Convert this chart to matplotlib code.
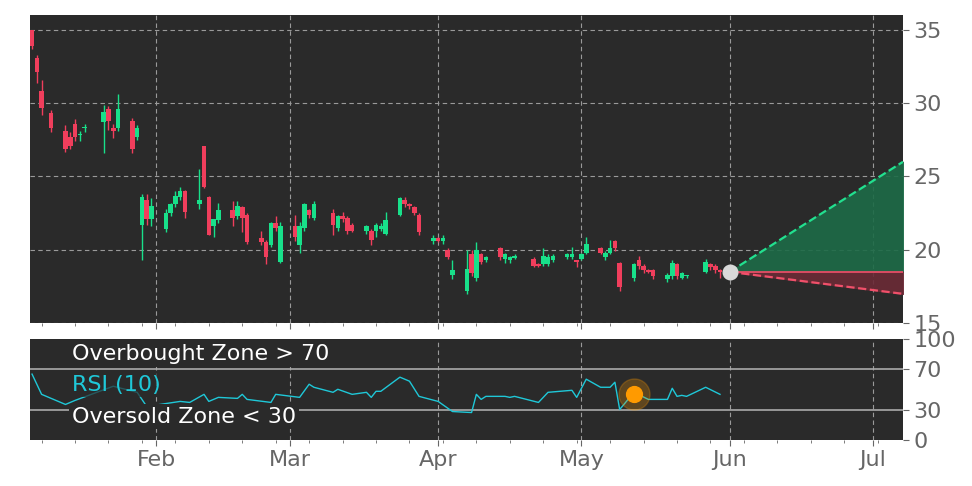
import matplotlib
matplotlib.use("Agg")
import matplotlib.pyplot as plt
import numpy as np

# day number = days since Jan 1 (Jan 1 = 0)
days = [5,6,7,9,12,13,14,15,16,20,21,22,23,26,27,
        28,29,30,33,34,35,36,37,40,41,42,43,44,47,48,49,50,53,54,55,56,57,60,61,62,63,64,
        68,69,70,71,72,75,76,77,78,79,82,83,84,85,86,89,90,91,92,93,96,97,98,99,100,
        103,104,105,106,110,111,112,113,114,117,118,119,120,121,124,125,126,127,128,
        131,132,133,134,135,138,139,140,141,142,146,147,148,149]
opens = [35.0,33.1,30.8,29.3,28.1,27.7,28.6,27.8,28.3,28.7,29.6,28.3,28.3,28.8,27.7,
         21.7,23.4,22.1,21.4,22.5,23.1,23.6,24.0,23.1,27.1,23.6,21.6,22.0,22.7,22.3,22.9,22.4,20.8,20.5,20.3,21.8,19.2,21.6,20.3,21.5,22.7,22.2,
         22.5,21.5,22.3,22.2,21.7,21.3,21.3,21.3,21.4,21.1,22.4,23.4,23.1,22.9,22.4,20.6,20.8,20.6,20.0,18.3,17.2,19.7,18.1,19.7,19.3,
         20.1,19.4,19.3,19.45,19.4,19.0,19.0,19.0,19.3,19.5,19.5,19.25,19.4,19.8,20.1,19.5,19.8,20.6,19.1,
         18.1,19.3,18.9,18.6,18.6,18.0,18.2,19.0,18.1,18.2,18.5,19.0,18.9,18.6]
highs = [35.0,33.3,31.6,29.5,28.5,28.0,28.9,28.1,28.6,29.9,29.8,28.6,30.6,29.0,28.5,
         23.8,23.8,23.5,22.8,23.2,24.0,24.3,24.1,25.5,27.1,23.7,22.1,23.2,23.3,23.3,23.0,22.5,21.3,20.7,21.9,22.3,21.9,22.4,21.9,23.2,22.8,23.3,
         22.8,22.4,22.6,22.3,21.8,21.7,21.4,21.8,21.8,22.6,23.6,23.6,23.2,23.0,22.5,21.0,20.9,21.0,20.1,19.3,20.0,20.0,20.5,19.8,19.6,
         20.2,19.8,19.6,19.7,19.5,19.1,20.1,19.7,19.7,19.8,20.2,19.3,19.8,20.9,20.2,19.9,20.7,20.7,19.2,
         19.1,19.6,19.0,18.7,18.7,18.4,19.3,19.1,18.5,18.3,19.4,19.1,19.0,18.7]
lows = [33.7,31.4,29.2,28.0,26.7,26.9,27.4,27.4,28.0,26.6,28.2,27.6,28.1,26.6,27.5,
        19.3,21.7,21.6,21.2,22.3,22.9,23.4,22.2,22.8,24.2,21.0,20.9,21.8,21.6,22.1,21.2,20.4,20.3,19.0,20.2,21.3,19.1,20.6,19.8,21.3,22.2,22.0,
        21.0,21.3,21.9,21.1,21.2,21.1,20.3,20.9,21.3,21.0,22.3,22.9,22.8,22.4,21.0,20.4,20.5,20.4,19.4,18.0,17.0,18.2,17.9,19.0,19.2,
        19.3,19.1,19.1,19.4,18.8,18.8,18.9,18.9,19.2,19.4,19.4,18.8,19.3,19.7,19.7,19.3,19.7,19.9,17.2,
        17.9,18.7,18.4,18.4,18.0,17.8,18.0,18.0,18.0,18.1,18.4,18.6,18.4,18.1]
closes = [33.9,32.1,29.7,28.3,26.9,27.1,27.7,27.9,28.4,29.4,28.8,28.1,29.6,26.9,28.3,
          23.6,22.1,23.0,22.5,23.1,23.7,24.0,22.6,23.4,24.3,21.0,22.1,22.7,22.2,23.0,22.2,20.5,20.5,19.5,21.8,21.5,21.6,20.9,21.6,23.1,22.4,23.1,
          21.7,22.3,22.1,21.3,21.3,21.6,20.7,21.7,21.6,22.0,23.5,23.1,23.0,22.5,21.2,20.8,20.6,20.8,19.5,18.6,18.7,18.4,20.0,19.2,19.5,
          19.5,19.7,19.5,19.5,18.9,18.9,19.6,19.5,19.6,19.7,19.7,19.2,19.7,20.4,19.8,19.8,20.1,20.1,17.5,
          19.0,18.9,18.6,18.5,18.2,18.3,19.1,18.2,18.4,18.2,19.2,18.8,18.6,18.5]

last_day, last_price = 151, 18.5
proj_end_day = 187.3
proj_high, proj_low = 26.0, 17.0

rsi_days = [5,7,12,14,22,27,29,36,38,41,42,44,48,49,50,55,56,61,63,64,68,69,72,75,76,77,78,82,84,86,90,93,97,98,99,100,
            104,105,106,111,113,118,119,121,124,126,127,128,131,134,138,139,140,141,142,146,149]
rsi_vals = [65,45,35,39,53,47,33,38,37,45,38,42,41,45,40,37,45,42,55,52,47,50,45,47,42,48,48,62,58,43,38,28,27,45,40,43,
            43,42,43,37,47,49,42,60,52,52,57,30,47,40,40,51,43,44,43,52,45]
rsi_dot_day, rsi_dot_val = 131, 45

month_ticks = [31, 59, 90, 120, 151, 181]
month_labels = ["Feb", "Mar", "Apr", "May", "Jun", "Jul"]
price_ticks = [15, 20, 25, 30, 35]
rsi_ticks = [0, 30, 70, 100]

GREEN = "#18e08a"
RED = "#f03e5c"
BG = "#2a2a2a"
TXT = "#666666"

fig = plt.figure(figsize=(9.72, 4.86), dpi=100)
ax = fig.add_axes([0.031, 0.335, 0.898, 0.634])
ax2 = fig.add_axes([0.031, 0.095, 0.898, 0.208])
xlim = (4.6, 187.3)

for a in (ax, ax2):
    a.set_facecolor(BG)
    a.set_xlim(*xlim)
    a.set_xticks(month_ticks)
    a.set_xticks(np.arange(7, 187, 7), minor=True)
    a.yaxis.tick_right()
    a.tick_params(axis="both", colors=TXT, labelsize=16, length=4)
    a.tick_params(axis="x", which="minor", colors=TXT, length=2)
    for s in a.spines.values():
        s.set_visible(False)
    a.grid(True, axis="x", color="#9a9a9a", linestyle=(0, (4, 3)), linewidth=0.8)

ax.set_xticklabels([])
ax2.set_xticklabels(month_labels)
ax.set_ylim(15, 36)
ax.set_yticks(price_ticks)
ax.grid(True, axis="y", color="#9a9a9a", linestyle=(0, (4, 3)), linewidth=0.8)

for d, o, h, l, c in zip(days, opens, highs, lows, closes):
    col = GREEN if c >= o else RED
    ax.vlines(d, l, h, color=col, linewidth=1, zorder=3)
    lo, hi = min(o, c), max(o, c)
    ax.bar(d, max(hi - lo, 0.1), bottom=lo, width=0.95, color=col, zorder=4)

# projection cone
px = np.array([last_day, proj_end_day])
ax.fill_between(px, [last_price, last_price], [last_price, proj_high], color="#1d6b47", alpha=0.9, zorder=2)
ax.fill_between(px, [last_price, last_price], [last_price, proj_low], color="#6b2a36", alpha=0.9, zorder=2)
ax.plot(px, [last_price, proj_high], color="#22e08f", linestyle="--", linewidth=1.6, zorder=3)
ax.plot(px, [last_price, proj_low], color="#f0506a", linestyle="--", linewidth=1.6, zorder=3)
ax.plot(px, [last_price, last_price], color="#f0506a", linewidth=1.2, zorder=3)
ax.scatter([last_day], [last_price], s=110, color="#d9d9d9", zorder=5)

# RSI panel
ax2.set_ylim(0, 100)
ax2.set_yticks(rsi_ticks)
ax2.axhline(70, color="#aaaaaa", linewidth=1.2)
ax2.axhline(30, color="#aaaaaa", linewidth=1.2)
ax2.plot(rsi_days, rsi_vals, color="#1fc8d8", linewidth=1)
ax2.scatter([rsi_dot_day], [rsi_dot_val], s=500, color="#ff9a00", alpha=0.25, zorder=4)
ax2.scatter([rsi_dot_day], [rsi_dot_val], s=130, color="#ff9a00", zorder=5)
ax2.text(0.048, 0.85, "Overbought Zone > 70", transform=ax2.transAxes, color="white", fontsize=16,
         va="center", zorder=6, bbox=dict(facecolor=BG, edgecolor="none", pad=2))
ax2.text(0.048, 0.54, "RSI (10)", transform=ax2.transAxes, color="#1fc8d8", fontsize=16, va="center", zorder=6,
         bbox=dict(facecolor=BG, edgecolor="none", alpha=0.7, pad=1))
ax2.text(0.048, 0.23, "Oversold Zone < 30", transform=ax2.transAxes, color="white", fontsize=16,
         va="center", zorder=6, bbox=dict(facecolor=BG, edgecolor="none", pad=2))

fig.savefig("out.png", dpi=100)
